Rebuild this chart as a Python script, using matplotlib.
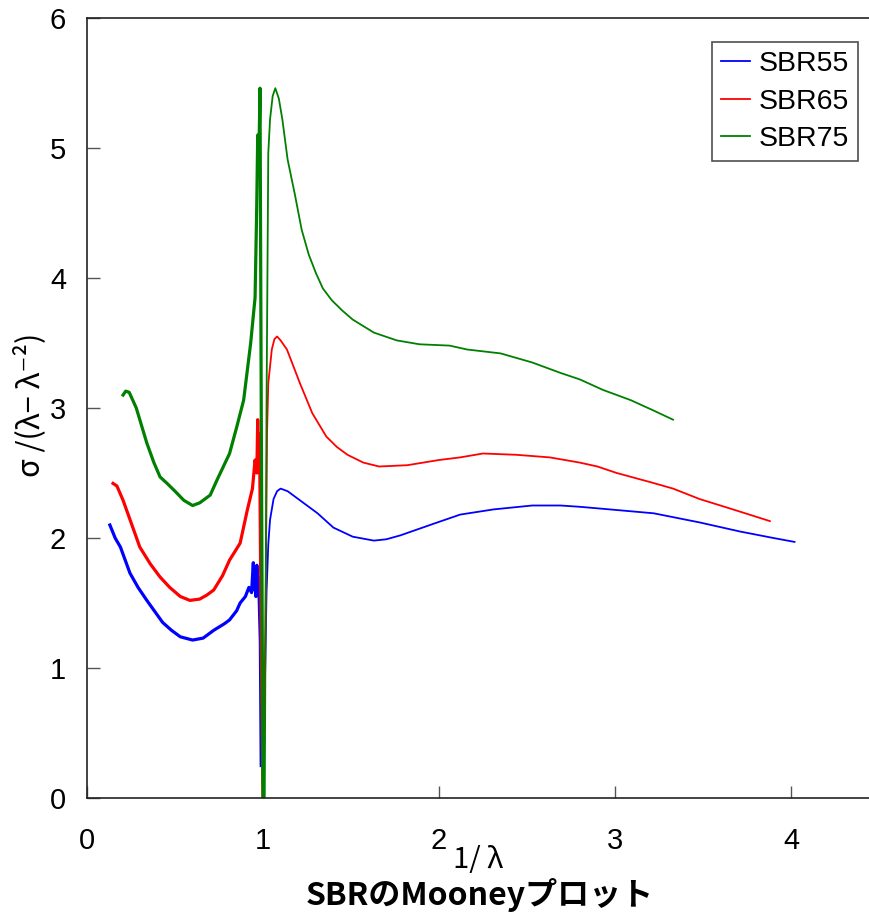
import matplotlib
matplotlib.use("Agg")
import matplotlib.pyplot as plt
from matplotlib.lines import Line2D

# Mooney plot data for three SBR grades: sigma/(lambda - lambda^-2) vs 1/lambda
# Extension branch (1/lambda < 1) and compression branch (1/lambda > 1)
sbr55_ext_x = [0.13, 0.16, 0.19, 0.244, 0.29, 0.34, 0.43, 0.48, 0.53, 0.60, 0.66, 0.72,
               0.78, 0.81, 0.85, 0.87, 0.90, 0.92, 0.935, 0.945, 0.95, 0.955, 0.96,
               0.965, 0.97, 0.975, 0.98, 0.985, 0.99]
sbr55_ext_y = [2.10, 2.00, 1.93, 1.73, 1.62, 1.52, 1.35, 1.29, 1.24, 1.215, 1.23, 1.29,
               1.34, 1.37, 1.44, 1.50, 1.55, 1.62, 1.58, 1.81, 1.60, 1.72, 1.55,
               1.79, 1.62, 1.70, 1.45, 1.20, 0.25]
sbr55_cmp_x = [1.00, 1.01, 1.02, 1.03, 1.04, 1.06, 1.08, 1.10, 1.14, 1.21, 1.31, 1.40,
               1.51, 1.63, 1.70, 1.78, 1.97, 2.12, 2.31, 2.53, 2.69, 2.80, 2.97, 3.22,
               3.48, 3.71, 3.90, 4.02]
sbr55_cmp_y = [0.00, 0.80, 1.58, 1.95, 2.14, 2.30, 2.36, 2.38, 2.36, 2.29, 2.19, 2.08,
               2.01, 1.98, 1.99, 2.02, 2.11, 2.18, 2.22, 2.25, 2.25, 2.24, 2.22, 2.19,
               2.12, 2.05, 2.00, 1.97]

sbr65_ext_x = [0.148, 0.17, 0.205, 0.25, 0.30, 0.36, 0.415, 0.47, 0.53, 0.585, 0.64, 0.68,
               0.72, 0.77, 0.81, 0.87, 0.91, 0.94, 0.955, 0.965, 0.97, 0.975, 0.98,
               0.983, 0.99, 1.00]
sbr65_ext_y = [2.42, 2.40, 2.29, 2.12, 1.93, 1.80, 1.70, 1.62, 1.55, 1.52, 1.53, 1.56,
               1.60, 1.71, 1.83, 1.96, 2.21, 2.38, 2.60, 2.50, 2.91, 2.55, 2.80,
               2.35, 1.20, 0.00]
sbr65_cmp_x = [1.003, 1.015, 1.023, 1.03, 1.05, 1.065, 1.08, 1.10, 1.136, 1.21, 1.28,
               1.36, 1.42, 1.48, 1.57, 1.66, 1.82, 2.00, 2.12, 2.25, 2.44, 2.63, 2.80,
               2.90, 3.01, 3.20, 3.33, 3.48, 3.67, 3.88]
sbr65_cmp_y = [0.00, 1.50, 2.81, 3.19, 3.45, 3.53, 3.55, 3.52, 3.45, 3.19, 2.96,
               2.78, 2.70, 2.64, 2.58, 2.55, 2.56, 2.60, 2.62, 2.65, 2.64, 2.62, 2.58,
               2.55, 2.50, 2.43, 2.38, 2.30, 2.22, 2.13]

sbr75_ext_x = [0.205, 0.22, 0.24, 0.28, 0.34, 0.38, 0.415, 0.455, 0.50, 0.55, 0.60, 0.64,
               0.70, 0.74, 0.81, 0.85, 0.89, 0.93, 0.955, 0.964, 0.97, 0.975, 0.983,
               0.99, 1.00]
sbr75_ext_y = [3.10, 3.13, 3.12, 3.00, 2.73, 2.58, 2.47, 2.42, 2.36, 2.29, 2.25, 2.27,
               2.33, 2.45, 2.65, 2.85, 3.06, 3.50, 3.85, 4.52, 5.10, 4.80, 5.46,
               3.00, 0.00]
sbr75_cmp_x = [1.01, 1.02, 1.03, 1.04, 1.055, 1.07, 1.09, 1.11, 1.14, 1.18, 1.22, 1.26,
               1.30, 1.34, 1.39, 1.45, 1.51, 1.63, 1.76, 1.89, 2.06, 2.16, 2.35, 2.53,
               2.69, 2.80, 2.93, 3.09, 3.22, 3.33]
sbr75_cmp_y = [0.00, 3.00, 4.96, 5.22, 5.40, 5.46, 5.38, 5.22, 4.91, 4.65, 4.37, 4.18,
               4.04, 3.92, 3.83, 3.75, 3.68, 3.58, 3.52, 3.49, 3.48, 3.45, 3.42, 3.35,
               3.27, 3.22, 3.14, 3.06, 2.98, 2.91]

series_names = ["SBR55", "SBR65", "SBR75"]
series_colors = ["#0000ff", "#ff0000", "#008000"]
x_ticks = [0, 1, 2, 3, 4]
y_ticks = [0, 1, 2, 3, 4, 5, 6]

num_font = "Liberation Sans"
jp_font = ["Noto Sans CJK JP", "DejaVu Sans"]

fig = plt.figure(figsize=(8.69, 9.15), dpi=100)
ax = fig.add_axes([87 / 869, 117 / 915, 792 / 869, 780 / 915])

branches = [
    (sbr55_ext_x, sbr55_ext_y, sbr55_cmp_x, sbr55_cmp_y),
    (sbr65_ext_x, sbr65_ext_y, sbr65_cmp_x, sbr65_cmp_y),
    (sbr75_ext_x, sbr75_ext_y, sbr75_cmp_x, sbr75_cmp_y),
]
for (ex, ey, cx, cy), color in zip(branches, series_colors):
    ax.plot(ex, ey, color=color, lw=2.3, solid_joinstyle="round")
    ax.plot(cx, cy, color=color, lw=1.3, solid_joinstyle="round")

ax.set_xlim(0, 4.5)
ax.set_ylim(0, 6)
ax.set_xticks(x_ticks)
ax.set_yticks(y_ticks)
ax.tick_params(direction="in", length=9, width=1, color="#555555",
               labelsize=21, pad=15)
ax.tick_params(axis="x", pad=21)
for lbl in ax.get_xticklabels() + ax.get_yticklabels():
    lbl.set_fontfamily(num_font)
for side in ["left", "bottom", "top"]:
    ax.spines[side].set_color("#222222")
    ax.spines[side].set_linewidth(1.2)
ax.spines["right"].set_visible(False)

handles = [Line2D([], [], color=c, lw=1.3) for c in series_colors]
leg = ax.legend(handles, series_names, loc="upper left",
                bbox_to_anchor=((712 - 87) / 792, 1 - (42 - 18) / 780),
                borderaxespad=0, frameon=True, fancybox=False,
                prop={"family": num_font, "size": 20.5},
                handlelength=1.05, handletextpad=0.3, labelspacing=0.42,
                borderpad=0.3)
leg.get_frame().set_edgecolor("#222222")
leg.get_frame().set_linewidth(1.2)

fig.text(30 / 869, 1 - 405 / 915, "σ /(λ− λ⁻²)", rotation=90,
         ha="center", va="center", fontsize=22, family=jp_font)
fig.text(478 / 869, 1 - 860 / 915, "1/ λ", ha="center", va="center",
         fontsize=21, family=jp_font)
fig.text(480 / 869, 1 - 895 / 915, "SBRのMooneyプロット", ha="center", va="center",
         fontsize=23, family=jp_font, fontweight="bold")

fig.savefig("out.png", dpi=100)
